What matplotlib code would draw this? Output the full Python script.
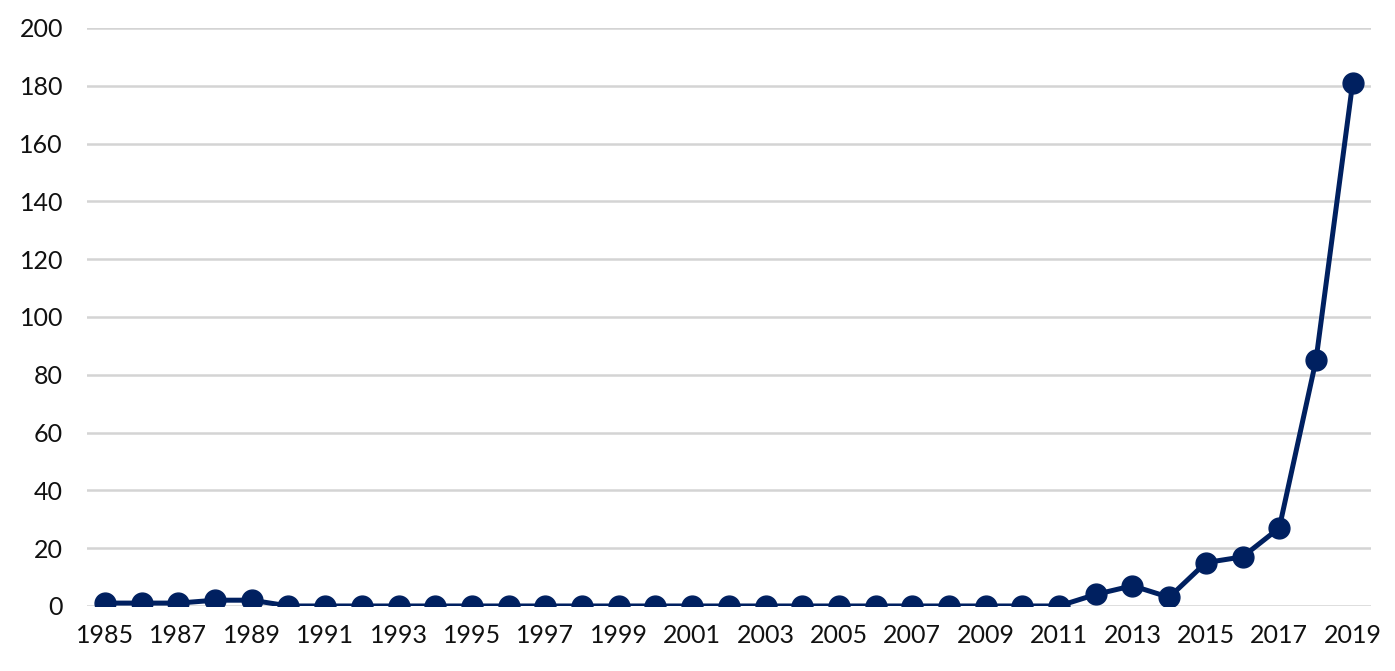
import matplotlib
matplotlib.use('Agg')
from matplotlib import pyplot as plt
import numpy as np

#Years and yearly counts
years = list(range(1985, 2020))
counts = [1, 1, 1, 2, 2, 0, 0, 0, 0, 0,
          0, 0, 0, 0, 0, 0, 0, 0, 0, 0,
          0, 0, 0, 0, 0, 0, 0, 4, 7, 3,
          15, 17, 27, 85, 181]

#Only every other year gets a label
tick_years = years[::2]

navy = '#002060'

plt.rcParams['font.family'] = ['Lato', 'DejaVu Sans']

fig = plt.figure(figsize=(13.95, 6.71), dpi=100)
ax = fig.add_axes([0.0621, 0.0969, 0.9207, 0.8614])

ax.plot(years, counts, color=navy, linewidth=3.6, marker='o',
        markersize=15, markerfacecolor=navy, markeredgecolor=navy, zorder=3)

ax.set_xlim(1984.5, 2019.5)
ax.set_ylim(0, 200)
ax.set_yticks(np.arange(0, 201, 20))
ax.set_xticks(tick_years)
ax.set_xticklabels([str(y) for y in tick_years])

ax.grid(axis='y', color='#d4d4d4', linewidth=1.8, zorder=0)
ax.set_axisbelow(True)
for side in ['top', 'right', 'left', 'bottom']:
    ax.spines[side].set_visible(False)

ax.tick_params(axis='both', length=0, labelsize=18, colors='#111111')
ax.tick_params(axis='y', pad=17)
ax.tick_params(axis='x', pad=13)

fig.savefig('out.png', dpi=100)
